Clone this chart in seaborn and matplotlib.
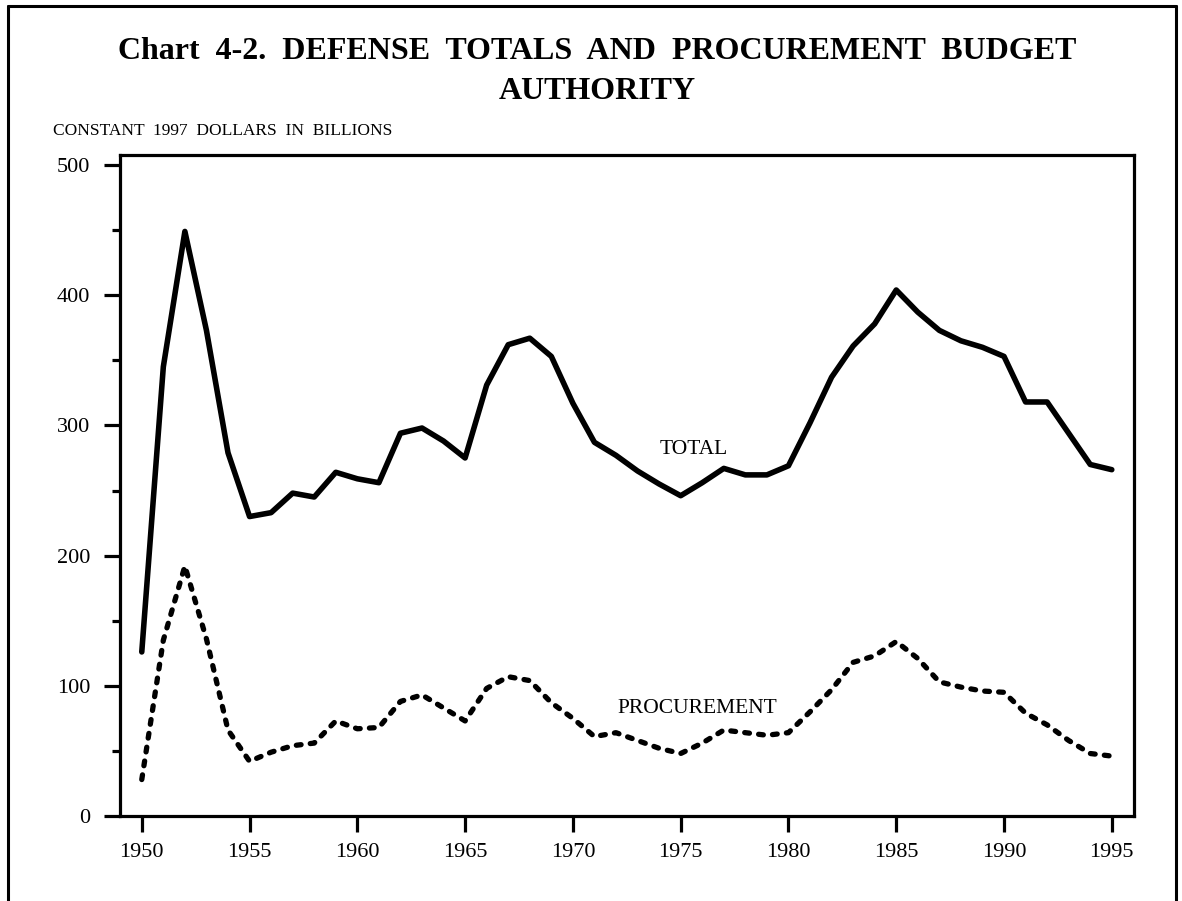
import numpy as np
import pandas as pd
import matplotlib
matplotlib.use("Agg")
import matplotlib.pyplot as plt
from matplotlib.lines import Line2D
from matplotlib.ticker import MultipleLocator
import seaborn as sns

# ---- data (constant 1997 dollars, billions) ----
years = list(range(1950, 1996))
total = [126, 345, 449, 373, 279, 230, 233, 248, 245, 264,
         259, 256, 294, 298, 288, 275, 331, 362, 367, 353,
         317, 287, 277, 265, 255, 246, 256, 267, 262, 262,
         269, 302, 337, 361, 378, 404, 387, 373, 365, 360,
         353, 318, 318, 294, 270, 266]
procurement = [28, 135, 192, 136, 66, 42, 49, 54, 56, 73,
               67, 68, 88, 93, 83, 73, 98, 107, 104, 87,
               75, 61, 64, 58, 52, 48, 56, 66, 64, 62,
               64, 80, 97, 118, 123, 134, 121, 103, 99, 96,
               95, 79, 70, 58, 48, 46]
y_ticks = [0, 100, 200, 300, 400, 500]
x_ticks = [1950, 1955, 1960, 1965, 1970, 1975, 1980, 1985, 1990, 1995]
title_line1 = "Chart  4-2.  DEFENSE  TOTALS  AND  PROCUREMENT  BUDGET"
title_line2 = "AUTHORITY"
subtitle = "CONSTANT  1997  DOLLARS  IN  BILLIONS"

df = pd.DataFrame({"year": years, "TOTAL": total, "PROCUREMENT": procurement})

sns.set_style("ticks")
plt.rcParams["font.family"] = ["Liberation Serif", "DejaVu Serif"]
plt.rcParams["text.color"] = "black"

W, H = 1182, 901
fig = plt.figure(figsize=(W / 100, H / 100), dpi=100)
ax = fig.add_axes([120 / W, 1 - 816 / H, (1134 - 120) / W, (816 - 155) / H])

sns.lineplot(data=df, x="year", y="TOTAL", ax=ax, color="black",
             linewidth=4.0, errorbar=None, solid_joinstyle="round",
             solid_capstyle="round")
sns.lineplot(data=df, x="year", y="PROCUREMENT", ax=ax, color="black",
             linewidth=3.8, errorbar=None)
proc_line = ax.get_lines()[-1]
proc_line.set_linestyle((0, (0.9, 1.75)))
proc_line.set_dash_capstyle("round")

ax.set_xlim(1948.99, 1996.03)
ax.set_ylim(0, 507.7)
ax.set_xticks(x_ticks)
ax.set_xticklabels([str(v) for v in x_ticks])
ax.set_yticks(y_ticks)
ax.set_yticklabels([str(v) for v in y_ticks])
ax.yaxis.set_minor_locator(MultipleLocator(50))
ax.set_xlabel("")
ax.set_ylabel("")

for s in ax.spines.values():
    s.set_linewidth(2.3)
    s.set_color("black")
    s.set_visible(True)

ax.tick_params(axis="both", which="major", direction="out", length=11.5,
               width=2.3, color="black", labelsize=16, labelcolor="black")
ax.tick_params(axis="x", which="major", pad=8)
ax.tick_params(axis="y", which="major", pad=10)
ax.tick_params(axis="y", which="minor", direction="out", length=5.8,
               width=2.3, color="black", left=True)
ax.tick_params(axis="x", which="minor", bottom=False)

ax.text(1975.59, 278, "TOTAL", ha="center", va="baseline", fontsize=15.5)
ax.text(1975.76, 79, "PROCUREMENT", ha="center", va="baseline", fontsize=15.5)

fig.text(597 / W, 1 - 59 / H, title_line1, ha="center", va="baseline",
         fontsize=23, fontweight="bold")
fig.text(597 / W, 1 - 99 / H, title_line2, ha="center", va="baseline",
         fontsize=23, fontweight="bold")
fig.text(53 / W, 1 - 135 / H, subtitle, ha="left", va="baseline",
         fontsize=12.5)

# outer frame (left, top, right)
lw = 2.2
fig.add_artist(Line2D([8 / W, 8 / W], [0, 1 - 6 / H], transform=fig.transFigure,
                      color="black", linewidth=lw))
fig.add_artist(Line2D([8 / W, 1176 / W], [1 - 6 / H, 1 - 6 / H],
                      transform=fig.transFigure, color="black", linewidth=lw))
fig.add_artist(Line2D([1176 / W, 1176 / W], [0, 1 - 6 / H], transform=fig.transFigure,
                      color="black", linewidth=lw))

fig.savefig("out.png", dpi=100, facecolor="white")
